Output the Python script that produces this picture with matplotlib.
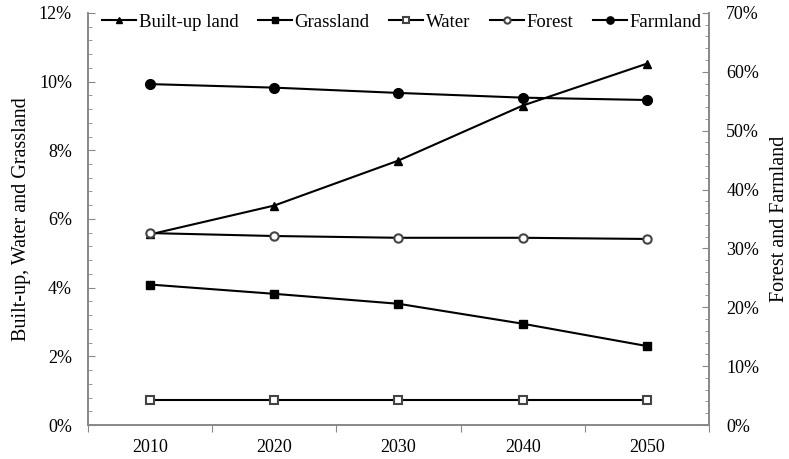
import matplotlib.pyplot as plt
from matplotlib.ticker import MultipleLocator, FixedLocator, PercentFormatter

plt.rcParams['font.family'] = ['Liberation Serif', 'DejaVu Serif']

years = ['2010', '2020', '2030', '2040', '2050']
built_up = [5.55, 6.39, 7.70, 9.30, 10.52]
grassland = [4.09, 3.82, 3.53, 2.95, 2.30]
water = [0.72, 0.72, 0.72, 0.72, 0.72]
forest = [32.6, 32.1, 31.8, 31.8, 31.6]
farmland = [57.9, 57.3, 56.4, 55.6, 55.2]

x = list(range(1, len(years) + 1))

fig = plt.figure(figsize=(7.89, 4.59), dpi=100)
ax = fig.add_axes([0.1115, 0.074, 0.787, 0.898])
ax2 = ax.twinx()

lw = 1.5
l1, = ax.plot(x, built_up, color='black', lw=lw, marker='^', ms=6, label='Built-up land')
l2, = ax.plot(x, grassland, color='black', lw=lw, marker='s', ms=6, label='Grassland')
l3, = ax.plot(x, water, color='black', lw=lw, marker='s', ms=6, mfc='white',
              mec='#444444', mew=1.5, label='Water')
l4, = ax2.plot(x, forest, color='black', lw=lw, marker='o', ms=6, mfc='white',
               mec='#444444', mew=1.5, label='Forest')
l5, = ax2.plot(x, farmland, color='black', lw=lw, marker='o', ms=7, label='Farmland')

ax.set_xlim(0.5, 5.5)
ax.set_ylim(0, 12)
ax2.set_ylim(0, 70)

ax.yaxis.set_major_locator(MultipleLocator(2))
ax.yaxis.set_minor_locator(MultipleLocator(0.4))
ax.yaxis.set_major_formatter(PercentFormatter(decimals=0))
ax2.yaxis.set_major_locator(MultipleLocator(10))
ax2.yaxis.set_minor_locator(MultipleLocator(2))
ax2.yaxis.set_major_formatter(PercentFormatter(decimals=0))

# category boundaries as ticks, labels at centres
ax.xaxis.set_major_locator(FixedLocator([i + 0.5 for i in range(0, 6)]))
ax.xaxis.set_minor_locator(FixedLocator(x))
ax.set_xticklabels([])
ax.set_xticklabels(years, minor=True)
ax.tick_params(axis='x', which='major', direction='out', length=5, color='#888888')
ax.tick_params(axis='x', which='minor', length=0, pad=10, labelsize=13)

ax.tick_params(axis='y', which='both', direction='in', color='#888888', labelsize=13, pad=11.5)
ax.tick_params(axis='y', which='major', length=5)
ax.tick_params(axis='y', which='minor', length=3)
ax2.tick_params(axis='y', which='both', direction='in', color='#888888', labelsize=13, pad=12.5)
ax2.tick_params(axis='y', which='major', length=5)
ax2.tick_params(axis='y', which='minor', length=3)

for a in (ax, ax2):
    a.spines['top'].set_visible(False)
    for s in ('left', 'right', 'bottom'):
        a.spines[s].set_color('#888888')
        a.spines[s].set_linewidth(1.2)

ax.set_ylabel('Built-up, Water and Grassland', fontsize=14.5, labelpad=6)
ax2.set_ylabel('Forest and Farmland', fontsize=14.5, labelpad=8)

leg = fig.legend(handles=[l1, l2, l3, l4, l5], loc='center left', ncol=5,
                 bbox_to_anchor=(102 / 789, 1 - 22 / 459), fontsize=13.5, frameon=False,
                 handlelength=1.8, handletextpad=0.15, columnspacing=1.05,
                 borderpad=0, borderaxespad=0, markerscale=0.75)

fig.savefig('out.png', dpi=100)
